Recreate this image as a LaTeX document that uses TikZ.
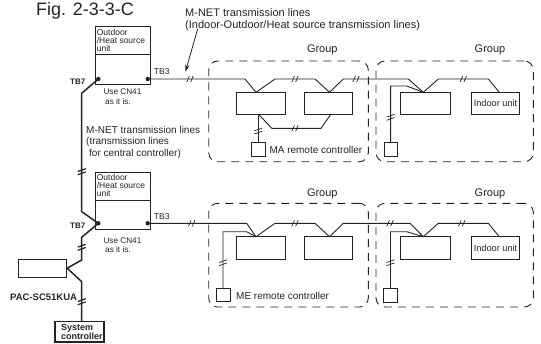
\documentclass[tikz,border=0pt]{standalone}
\usepackage{fontspec}
\setmainfont{Liberation Sans}
\usetikzlibrary{arrows.meta}
\definecolor{inkc}{RGB}{35,35,35}
\newcommand\myfs[2]{\fontsize{#1}{#2}\selectfont}
\begin{document}
\begin{tikzpicture}[x=1pt,y=-1pt,
  wire/.style={draw=inkc, line width=0.9pt, line join=miter},
  chain/.style={draw=inkc, line width=1.5pt, line join=miter},
  ubox/.style={draw=inkc, line width=0.9pt, inner sep=0pt, rectangle},
  grp/.style={draw=inkc, line width=0.9pt, dash pattern=on 8pt off 6pt, rounded corners=9pt, rectangle, inner sep=0pt},
  txt/.style={text=inkc, inner sep=0pt},
  hsl/.pic={\draw[inkc] (-3.2,3) -- (-0.6,-3) (0.6,3) -- (3.2,-3);},
  vsl/.pic={\draw[inkc] (-4,-0.2) -- (4,-3.0) (-4,3.0) -- (4,0.2);}
]
\useasboundingbox (0,0) rectangle (541,343);

% title
\node[txt, font=\myfs{18}{20}] (fig) at (85,11) {Fig. 2-3-3-C};

% top label
\node[txt, anchor=west, align=left, font=\myfs{11}{11.7}] (lblTop) at (185,19.5)
  {M-NET transmission lines\\(Indoor-Outdoor/Heat source transmission lines)};
\coordinate (arrS) at (197.7,28.8);
\coordinate (arrE) at (185.5,71.5);
\draw[draw=inkc, line width=0.8pt, -{Stealth[length=7pt,width=4.5pt]}] (arrS) -- (arrE);

% outdoor units
\node[ubox, minimum width=54.6pt, minimum height=57.6pt] (ou1) at (123,55.5) {};
\draw[inkc, line width=0.9pt] ([yshift=-28.3pt]ou1.north west) -- ([yshift=-28.3pt]ou1.north east);
\node[txt, anchor=north west, align=left, font=\myfs{8.5}{7.9}] (ou1t) at ([xshift=1.4pt,yshift=-2.6pt]ou1.north west)
  {Outdoor\\/Heat source\\unit};
\node[ubox, minimum width=54.6pt, minimum height=57pt] (ou2) at (123,200.8) {};
\draw[inkc, line width=0.9pt] ([yshift=-28.3pt]ou2.north west) -- ([yshift=-28.3pt]ou2.north east);
\node[txt, anchor=north west, align=left, font=\myfs{8.5}{7.9}] (ou2t) at ([xshift=1.4pt,yshift=-2.6pt]ou2.north west)
  {Outdoor\\/Heat source\\unit};

% terminals
\coordinate (tb7a) at (98.3,79);
\coordinate (tb3a) at (147.7,79);
\coordinate (tb7b) at (98.3,223.3);
\coordinate (tb3b) at (147.7,223.3);
\fill[inkc] (tb7a) circle (2.2pt) (tb3a) circle (2.2pt) (tb7b) circle (2.2pt) (tb3b) circle (2.2pt);

\node[txt, anchor=east, font=\bfseries\myfs{8}{9}] (tb7at) at (85.5,81.5) {TB7};
\node[txt, anchor=east, font=\bfseries\myfs{8}{9}] (tb7bt) at (85.5,226) {TB7};
\node[txt, font=\myfs{8.5}{9}] (tb3at) at (161.7,72) {TB3};
\node[txt, font=\myfs{8.5}{9}] (tb3bt) at (161.7,217) {TB3};

\node[txt, anchor=west, align=left, font=\myfs{8.2}{10}] (cn1) at (103.3,96.7) {Use CN41\\\hspace*{1.7pt}as it is.};
\node[txt, anchor=west, align=left, font=\myfs{8.2}{9.5}] (cn2) at (103.3,245.4) {Use CN41\\\hspace*{1.7pt}as it is.};

% central controller label
\node[txt, anchor=west, align=left, font=\myfs{10}{11.3}] (lblCen) at (86,142.2)
  {M-NET transmission lines\\(transmission lines\\\hspace*{3pt}for central controller)};

% PAC and system controller
\node[ubox, minimum width=48.4pt, minimum height=18.3pt] (pac) at (42.5,268.2) {};
\node[txt, font=\bfseries\myfs{9.5}{10}] (pact) at (43.6,297) {PAC-SC51KUA};
\node[ubox, line width=1.2pt, minimum width=49pt, minimum height=20.3pt] (sys) at (79.5,331.9) {};
\node[txt, anchor=west, align=left, font=\bfseries\myfs{9}{8.6}] (syst) at (61,331.6) {System\\controller};

% left chain
\coordinate (c1) at (81.7,93.3);
\coordinate (c2) at (81.7,211.7);
\coordinate (c3) at (81.7,237.3);
\coordinate (c4) at (81.7,260);
\coordinate (c5) at (81.7,281.7);
\draw[chain] (tb7a) -- (c1) -- (c2) -- (tb7b) -- (c3) -- (c4) -- (pac.east) -- (c5) -- (sys.north -| c5);
\pic[line width=1.2pt] at (81.7,171.7) {vsl};
\pic[line width=1.2pt] at (81.7,247.3) {vsl};
\pic[line width=1.2pt] at (81.7,301.7) {vsl};

% groups
\node[grp, minimum width=159.6pt, minimum height=100.7pt] (g1) at (288.5,111.35) {};
\node[grp, minimum width=157.3pt, minimum height=100.7pt] (g2) at (454.65,111.35) {};
\node[grp, minimum width=159.6pt, minimum height=103.7pt] (g3) at (288.5,255.15) {};
\node[grp, minimum width=157.3pt, minimum height=103.7pt] (g4) at (454.65,255.15) {};
\node[txt, font=\myfs{11}{12}] (g1t) at (322.3,50) {Group};
\node[txt, font=\myfs{11}{12}] (g2t) at (490,50) {Group};
\node[txt, font=\myfs{11}{12}] (g3t) at (322.3,193.5) {Group};
\node[txt, font=\myfs{11}{12}] (g4t) at (490,193.5) {Group};

% indoor units top
\node[ubox, minimum width=49pt, minimum height=21.7pt] (u1) at (260.5,103.15) {};
\node[ubox, minimum width=48.4pt, minimum height=21.7pt] (u2) at (328.5,103.15) {};
\node[ubox, minimum width=50pt, minimum height=21.7pt] (u3) at (425,103.15) {};
\node[ubox, minimum width=47.6pt, minimum height=21.7pt, font=\myfs{9.2}{10}, text=inkc] (u4) at (495.5,103.15) {Indoor unit};
% indoor units bottom
\node[ubox, minimum width=49pt, minimum height=22.6pt] (v1) at (260.5,248) {};
\node[ubox, minimum width=48.4pt, minimum height=22.6pt] (v2) at (328.5,248) {};
\node[ubox, minimum width=50pt, minimum height=22.6pt] (v3) at (425,248) {};
\node[ubox, minimum width=47.6pt, minimum height=22.6pt, font=\myfs{9.2}{10}, text=inkc] (v4) at (495.5,248) {Indoor unit};

% remote controllers
\node[ubox, minimum width=13.3pt, minimum height=14pt] (rc1) at (258.3,149.7) {};
\node[ubox, minimum width=13.3pt, minimum height=13.3pt] (rc2) at (390.6,149.4) {};
\node[ubox, minimum width=14pt, minimum height=13.4pt] (rc3) at (223,295) {};
\node[ubox, minimum width=14.4pt, minimum height=14pt] (rc4) at (390.5,295.3) {};
\node[txt, anchor=west, font=\myfs{10}{11}] (rc1t) at (269.3,150.3) {MA remote controller};
\node[txt, anchor=west, font=\myfs{10}{11}] (rc3t) at (236,296.3) {ME remote controller};

% top wiring
\coordinate (j1) at (256,92.3);
\coordinate (j2) at (329.5,92.3);
\coordinate (j3) at (423.3,92.3);
\coordinate (j4) at (499.3,92.3);
\draw[wire] (tb3a) -- (245,79) -- (j1) -- (275,79) -- (315,79) -- (j2) -- (343.3,79) -- (408.3,79) -- (j3) -- (438.3,79) -- (488.3,79) -- (j4);
\draw[wire] (rc2.north) -- (390.6,86) -- (406.7,86) -- (j3);
\coordinate (k1) at (258.3,114);
\coordinate (k2) at (331,114);
\draw[wire] (k1) -- (271.7,128.3) -- (321,128.3) -- (k2);
\draw[wire] (k1) -- (rc1.north);
\pic[line width=0.7pt] at (190,79) {hsl};
\pic[line width=0.7pt] at (295,79) {hsl};
\pic[line width=0.7pt] at (356,79) {hsl};
\pic[line width=0.7pt] at (463.3,79) {hsl};
\pic[line width=0.7pt] at (295,128.3) {hsl};
\pic[line width=0.7pt] at (258.3,131) {vsl};
\pic[line width=0.7pt] at (390.6,117.3) {vsl};

% bottom wiring
\coordinate (J1) at (256,236.7);
\coordinate (J2) at (329.5,236.7);
\coordinate (J3) at (423.3,236.7);
\coordinate (J4) at (499.3,236.7);
\draw[wire] (tb3b) -- (246.7,223.3) -- (J1) -- (275,223.3) -- (315,223.3) -- (J2) -- (343.3,223.3) -- (410,223.3) -- (J3) -- (438.3,223.3) -- (488.3,223.3) -- (J4);
\draw[wire] (rc3.north) -- (223,231.7) -- (246.7,231.7) -- (J1);
\draw[wire] (rc4.north) -- (390.5,231.7) -- (406.7,231.7) -- (J3);
\pic[line width=0.7pt] at (191.7,223.3) {hsl};
\pic[line width=0.7pt] at (295,223.3) {hsl};
\pic[line width=0.7pt] at (390,223.3) {hsl};
\pic[line width=0.7pt] at (461.7,223.3) {hsl};
\pic[line width=0.7pt] at (223,262.7) {vsl};
\pic[line width=0.7pt] at (390.5,262.7) {vsl};
\end{tikzpicture}
\end{document}
